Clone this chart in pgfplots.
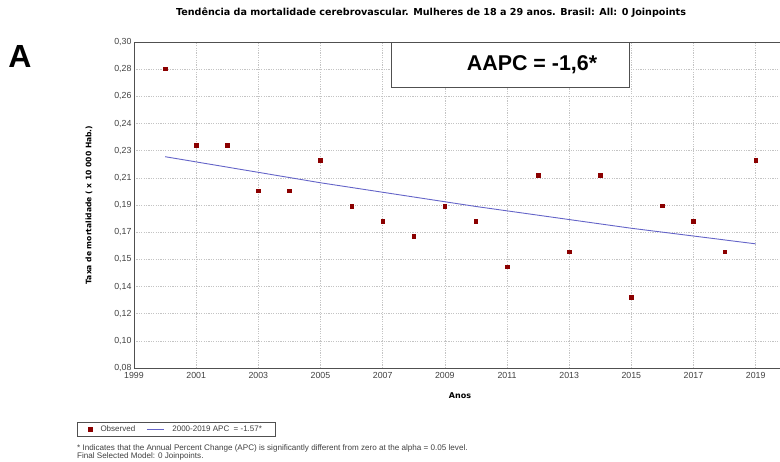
\documentclass[border=0pt]{standalone}
\usepackage{fontspec}
\setmainfont{Liberation Sans}
\newfontfamily\verdana{DejaVu Sans}
\usepackage{pgfplots}
\pgfplotsset{compat=1.18}

\definecolor{obsred}{HTML}{8B0000}
\definecolor{fitblue}{HTML}{6464C8}
\definecolor{gridgray}{HTML}{C4C4C4}
\definecolor{framegray}{HTML}{505050}

\begin{document}
\begin{tikzpicture}[x=1pt,y=1pt]
\path[use as bounding box] (0,0) rectangle (780,462);
\begin{axis}[
  at={(134pt,94pt)}, anchor=south west,
  scale only axis, width=652.7pt, height=326pt,
  xmin=1999, xmax=2020, ymin=0.08, ymax=0.30,
  xtick={1999,2001,...,2019},
  ytick={0.08,0.098333,0.116667,0.135,0.153333,0.171667,0.19,0.208333,0.226667,0.245,0.263333,0.281667,0.30},
  yticklabels={{0,08},{0,10},{0,12},{0,14},{0,15},{0,17},{0,19},{0,21},{0,23},{0,24},{0,26},{0,28},{0,30}},
  /pgf/number format/1000 sep={},
  /pgf/number format/assume math mode=true,
  grid=major,
  major grid style={gridgray, dash pattern=on 1.2pt off 1.2pt, line width=0.6pt},
  major tick length=0pt,
  axis line style={framegray, line width=0.8pt},
  tick label style={font=\fontsize{8.8}{10}\selectfont, text=black!75},
  xticklabel style={yshift=-1pt},
  yticklabel style={xshift=1pt},
  xlabel={\verdana\bfseries Anos},
  xlabel style={font=\fontsize{8}{9}\selectfont, at={(axis description cs:0.4995,-0.0859)}, anchor=center},
  ylabel={\verdana\bfseries Taxa de mortalidade ( x 10 000 Hab.)},
  ylabel style={font=\fontsize{7.6}{9}\selectfont, at={(axis description cs:-0.069,0.5)}, anchor=center},
  legend columns=2,
  legend style={at={(axis description cs:-0.0873,-0.1656)}, anchor=north west,
    draw=framegray, line width=0.6pt, font=\fontsize{8}{9}\selectfont, text=black!75,
    inner xsep=11pt, inner ysep=1.5pt,
    /tikz/every odd column/.append style={column sep=6pt},
    /tikz/every even column/.append style={column sep=9pt}},
  legend cell align=left,
]
% observed rates
\addplot[only marks, mark=square*, mark size=1.8pt, color=obsred,
  legend image code/.code={\fill[obsred] (0.3cm-1.8pt,-1.8pt) rectangle (0.3cm+1.8pt,1.8pt);}] coordinates {
  (2000,0.2820) (2001,0.2305) (2002,0.2305) (2003,0.1997) (2004,0.1997)
  (2005,0.2204) (2006,0.1893) (2007,0.1792) (2008,0.1689) (2009,0.1893)
  (2010,0.1792) (2011,0.1484) (2012,0.2100) (2013,0.1585) (2014,0.2100)
  (2015,0.1279) (2016,0.1895) (2017,0.1792) (2018,0.1585) (2019,0.2204)
};
\addlegendentry{Observed}
% fitted trend, 0 joinpoints
\addplot[fitblue, line width=0.9pt, mark=none,
  legend image code/.code={\draw[fitblue, line width=1.1pt] (0cm,0cm) -- (0.6cm,0cm);}] coordinates {
  (2000,0.2226) (2005,0.2050) (2010,0.1890) (2015,0.1743) (2019,0.1638)
};
\addlegendentry{2000-2019 APC\ \ = -1.57*}
\end{axis}
% chart title
\node[font=\verdana\fontsize{9.6}{11}\selectfont\bfseries, anchor=center] at (431,449) {Tendência da mortalidade cerebrovascular. Mulheres de 18 a 29 anos. Brasil: All: 0 Joinpoints};
% annotation box
\node[draw=framegray, line width=0.9pt, fill=white, minimum width=238pt, minimum height=45pt, anchor=north west, inner sep=0pt] at (391,420) {};
\node[font=\fontsize{21.4}{24}\selectfont\bfseries, anchor=center] at (532,397.5) {AAPC = -1,6*};
\node[font=\fontsize{32}{36}\selectfont\bfseries, anchor=center] at (20,405.5) {A};
% footnotes
\node[font=\fontsize{8.1}{9}\selectfont, text=black!75, anchor=west, inner sep=0pt] at (77,14) {* Indicates that the Annual Percent Change (APC) is significantly different from zero at the alpha = 0.05 level.};
\node[font=\fontsize{8.1}{9}\selectfont, text=black!75, anchor=west, inner sep=0pt] at (77,6) {Final Selected Model: 0 Joinpoints.};
\end{tikzpicture}
\end{document}
